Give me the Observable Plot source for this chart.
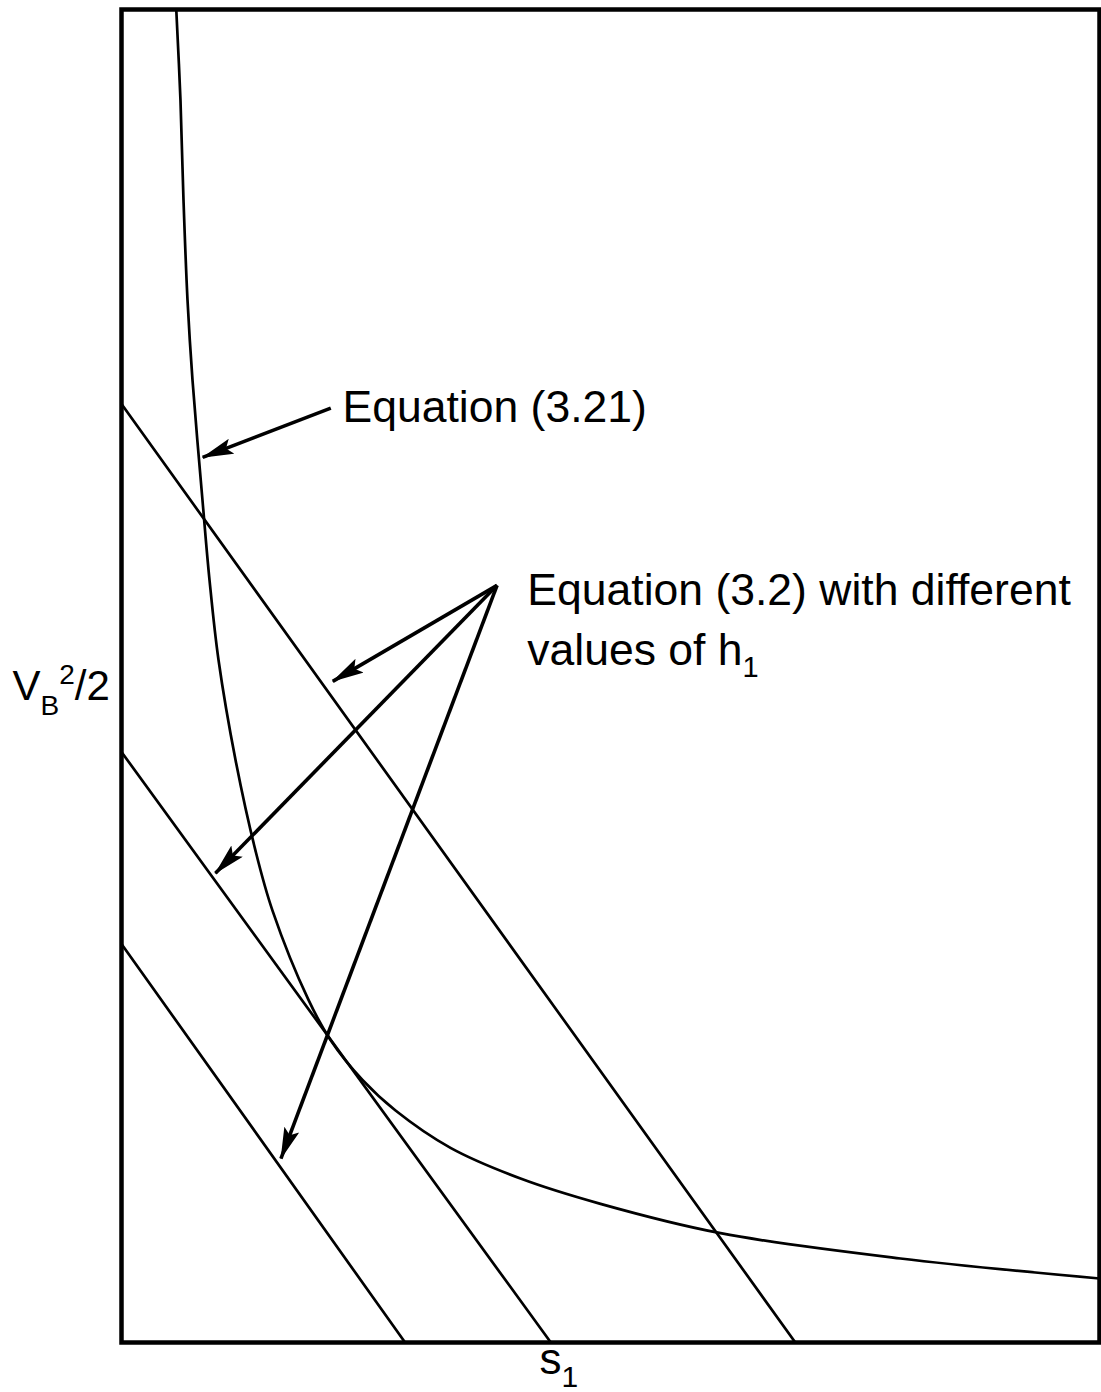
<!DOCTYPE html>
<html>
<head>
<meta charset="utf-8">
<script src="https://cdn.jsdelivr.net/npm/d3@7"></script>
<script src="https://cdn.jsdelivr.net/npm/@observablehq/plot@0.6"></script>
<style>
  html, body { margin: 0; padding: 0; background: #fff; }
  #chart svg { display: block; }
</style>
</head>
<body>
<div id="chart"></div>
<script>
// Equation (3.21): V_B^2/2 as a function of s1 (arbitrary units, 0–100 on both axes)
const curveS1 = [5.6, 6.03, 6.34, 6.75, 7.26, 8.28, 9.0, 9.92, 11.66, 13.7, 15.44, 19.12, 21.37, 24.64, 28.02, 33.64, 40.8, 48.98, 61.25, 79.65, 100];
const curveV  = [100, 93.2, 85.7, 78.2, 72.2, 63.2, 57.2, 51.2, 43.7, 36.9, 32.4, 25.7, 22.7, 19.7, 17.4, 14.6, 12.3, 10.4, 8.2, 6.3, 4.8];

// Equation (3.2) for three values of h1: straight lines from the V axis to the s1 axis
const h1Names   = ["h1 (high)", "h1 (middle)", "h1 (low)"];
const h1StartV  = [70.4, 44.3, 29.9];   // V_B^2/2 at s1 = 0
const h1EndS1   = [68.9, 43.9, 29.0];   // s1 at V_B^2/2 = 0

// Pointer arrows: tail and tip
const arrowTailS = [21.4, 38.4, 38.4, 38.4];
const arrowTailV = [70.1, 56.8, 56.8, 56.8];
const arrowTipS  = [8.3, 21.6, 9.6, 16.3];
const arrowTipV  = [66.4, 49.6, 35.2, 13.8];

// Annotation texts
const noteTexts = ["Equation (3.21)", "Equation (3.2) with different", "values of h"];
const noteS     = [22.6, 41.5, 41.5];
const noteV     = [70.1, 56.4, 51.9];

const curveRows = curveS1.map((s, i) => ({s, v: curveV[i]}));
const lineRows = h1Names.flatMap((h, i) => [
  {h, s: 0, v: h1StartV[i]},
  {h, s: h1EndS1[i], v: 0}
]);
const arrowRows = arrowTipS.map((s, i) => ({
  x1: arrowTailS[i], y1: arrowTailV[i], x2: s, y2: arrowTipV[i]
}));
const noteRows = noteTexts.map((t, i) => ({t, s: noteS[i], v: noteV[i]}));

const FONT = "'Liberation Sans', Arial, Helvetica, sans-serif";

const chart = Plot.plot({
  width: 1101,
  height: 1392,
  marginLeft: 121,
  marginRight: 2,
  marginTop: 9,
  marginBottom: 50,
  x: {domain: [0, 100], axis: null},
  y: {domain: [0, 100], axis: null},
  style: {fontFamily: FONT, background: "#fff", color: "#000", overflow: "visible"},
  marks: [
    Plot.line(curveRows, {x: "s", y: "v", curve: "catmull-rom", stroke: "#000", strokeWidth: 2.7}),
    Plot.line(lineRows, {x: "s", y: "v", z: "h", stroke: "#000", strokeWidth: 2.7}),
    Plot.link(arrowRows, {x1: "x1", y1: "y1", x2: "x2", y2: "y2", stroke: "#000", strokeWidth: 3.6, className: "pointer"}),
    Plot.text(noteRows, {x: "s", y: "v", text: "t", textAnchor: "start", lineAnchor: "middle", fontSize: 44.5, fill: "#000", className: "note"}),
    // axis titles
    Plot.text(["V"], {frameAnchor: "left", dx: -109, dy: 11, textAnchor: "start", fontSize: 42, fill: "#000", className: "ytitle"}),
    Plot.text(["s"], {frameAnchor: "bottom", dx: -71, dy: 31, textAnchor: "start", fontSize: 44, fill: "#000", className: "xtitle"}),
    Plot.frame({stroke: "#000", strokeWidth: 4.5})
  ]
});

const svg = d3.select(chart);

// filled arrow heads on the pointer links
const defs = svg.insert("defs", ":first-child");
defs.append("marker")
  .attr("id", "tip")
  .attr("markerUnits", "userSpaceOnUse")
  .attr("viewBox", "0 0 32 16")
  .attr("markerWidth", 32)
  .attr("markerHeight", 16)
  .attr("refX", 31)
  .attr("refY", 8)
  .attr("orient", "auto")
  .append("path")
  .attr("d", "M0,0 L32,8 L0,16 L6,8 Z")
  .attr("fill", "#000");
svg.selectAll(".pointer path").attr("marker-end", "url(#tip)");

// subscripts and superscripts
svg.selectAll(".note text").each(function () {
  const t = d3.select(this);
  if (t.text() === "values of h") {
    t.append("tspan").attr("dy", 12).attr("font-size", 29).text("1");
  }
});
svg.selectAll(".ytitle text").each(function () {
  const t = d3.select(this);
  t.append("tspan").attr("dy", 15).attr("font-size", 28).text("B");
  t.append("tspan").attr("dy", -31).attr("font-size", 28).text("2");
  t.append("tspan").attr("dy", 16).text("/2");
});
svg.selectAll(".xtitle text").each(function () {
  const t = d3.select(this);
  t.append("tspan").attr("dy", 13).attr("font-size", 30).text("1");
});

document.getElementById("chart").appendChild(chart);
</script>
</body>
</html>
